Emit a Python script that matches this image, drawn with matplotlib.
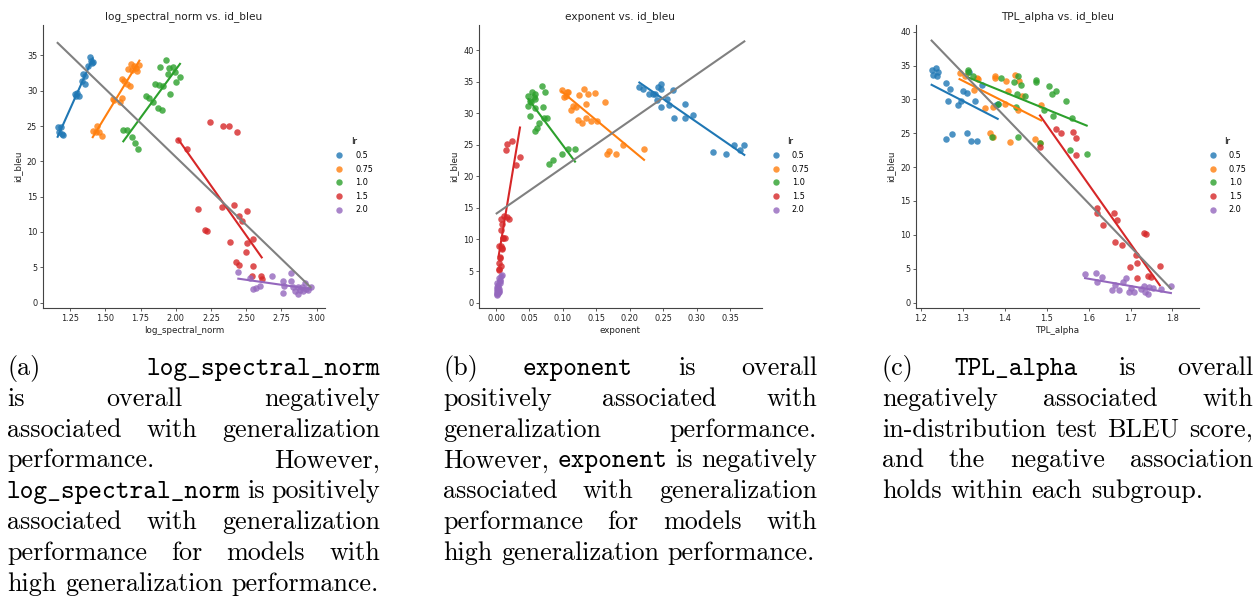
import numpy as np
import matplotlib
matplotlib.use("Agg")
import matplotlib.pyplot as plt
from matplotlib.lines import Line2D
from matplotlib.font_manager import FontProperties

# ---------------- data ----------------
lr_levels = ["0.5", "0.75", "1.0", "1.5", "2.0"]
colors = ["#1f77b4", "#ff7f0e", "#2ca02c", "#d62728", "#9467bd"]

spec_x = {
    "0.5": [1.162, 1.184, 1.174, 1.203, 1.193, 1.285, 1.297, 1.293, 1.311, 1.340, 1.359, 1.333, 1.354, 1.380, 1.397, 1.392, 1.411, 1.404],
    "0.75": [1.411, 1.439, 1.453, 1.475, 1.432, 1.553, 1.564, 1.617, 1.605, 1.617, 1.633, 1.652, 1.676, 1.659, 1.683, 1.688, 1.706, 1.723, 1.742, 1.718],
    "1.0": [1.628, 1.652, 1.687, 1.711, 1.735, 1.787, 1.813, 1.841, 1.853, 1.884, 1.872, 1.900, 1.907, 1.889, 1.929, 1.955, 1.948, 1.978, 1.995, 1.959, 2.002, 2.030],
    "1.5": [2.243, 2.333, 2.380, 2.437, 2.018, 2.082, 2.156, 2.208, 2.219, 2.326, 2.413, 2.451, 2.468, 2.508, 2.385, 2.508, 2.551, 2.498, 2.428, 2.451, 2.551, 2.539, 2.605, 2.610],
    "2.0": [2.444, 2.527, 2.551, 2.570, 2.598, 2.681, 2.759, 2.763, 2.771, 2.818, 2.816, 2.834, 2.846, 2.870, 2.882, 2.893, 2.905, 2.924, 2.941, 2.957, 2.917, 2.865],
}
spec_y = {
    "0.5": [24.9, 24.9, 24.1, 23.8, 23.9, 29.6, 29.7, 29.2, 29.2, 32.4, 32.1, 31.4, 30.9, 33.5, 34.2, 34.7, 34.1, 33.9],
    "0.75": [24.3, 25.0, 24.1, 23.6, 24.1, 28.8, 28.7, 29.0, 28.4, 31.7, 31.4, 31.0, 30.6, 33.1, 33.8, 33.0, 33.5, 32.8, 33.6, 33.2],
    "1.0": [24.4, 24.4, 23.5, 22.6, 21.8, 29.2, 29.0, 28.4, 30.9, 30.8, 27.5, 27.2, 30.7, 33.3, 34.3, 33.2, 32.4, 33.4, 32.7, 29.6, 31.3, 31.9],
    "1.5": [25.6, 25.0, 25.0, 24.1, 23.0, 21.7, 13.3, 10.3, 10.1, 13.6, 13.8, 12.3, 11.5, 13.0, 8.6, 8.4, 9.0, 7.1, 5.7, 5.3, 5.2, 3.8, 3.8, 3.3],
    "2.0": [4.4, 3.5, 2.0, 2.1, 2.4, 3.8, 3.0, 1.4, 2.4, 4.2, 3.0, 2.2, 1.7, 1.2, 1.8, 2.2, 1.6, 1.9, 1.8, 2.2, 2.8, 2.2],
}

expo_x = {
    "0.5": [0.2144, 0.2194, 0.2293, 0.2343, 0.2378, 0.2428, 0.2463, 0.2463, 0.2403, 0.2563, 0.2468, 0.2593, 0.2652, 0.2662, 0.2827, 0.2827, 0.2942, 0.3241, 0.3435, 0.3560, 0.3650, 0.3714],
    "0.75": [0.0982, 0.1022, 0.1057, 0.1082, 0.1047, 0.1246, 0.1321, 0.1371, 0.1481, 0.1630, 0.1346, 0.1157, 0.1197, 0.1117, 0.1231, 0.1291, 0.1346, 0.1416, 0.1506, 0.1665, 0.1695, 0.1795, 0.1905, 0.2214],
    "1.0": [0.0533, 0.0484, 0.0583, 0.0509, 0.0568, 0.0583, 0.0484, 0.0523, 0.0693, 0.0733, 0.0583, 0.0708, 0.0509, 0.0648, 0.0768, 0.0718, 0.0618, 0.0583, 0.1072, 0.1182, 0.0982, 0.0858, 0.0798],
    "1.5": [0.0234, 0.0170, 0.0145, 0.0359, 0.0299, 0.0120, 0.0160, 0.0199, 0.0070, 0.0085, 0.0070, 0.0135, 0.0110, 0.0050, 0.0085, 0.0060, 0.0075, 0.0050,
            0.0040, 0.0060, 0.0070, 0.0090, 0.0045, 0.0100],
    "2.0": [0.0040, 0.0085, 0.0060, 0.0020, 0.0035, 0.0010, 0.0050, 0.0025, 0.0010, 0.0040, 0.0020, 0.0060,
            0.0015, 0.0030, 0.0045, 0.0020, 0.0055, 0.0010, 0.0030, 0.0070],
}
expo_y = {
    "0.5": [34.1, 33.9, 33.1, 33.1, 33.1, 34.2, 34.6, 33.9, 32.1, 32.3, 30.9, 31.3, 33.6, 29.2, 31.5, 29.2, 29.7, 23.8, 23.6, 25.0, 24.2, 24.9],
    "0.75": [33.6, 32.6, 33.3, 33.4, 32.7, 32.9, 33.8, 33.1, 33.2, 31.8, 31.4, 31.1, 30.9, 30.5, 28.9, 28.4, 29.2, 28.7, 28.8, 23.5, 24.0, 23.6, 25.0, 24.3],
    "1.0": [33.3, 32.7, 33.1, 32.0, 32.5, 32.2, 31.1, 31.7, 34.3, 33.3, 30.8, 30.9, 29.6, 28.5, 29.2, 29.2, 27.6, 27.2, 24.4, 24.4, 23.5, 22.6, 21.9],
    "1.5": [25.6, 25.1, 24.2, 23.0, 21.8, 13.7, 13.5, 13.3, 13.2, 12.4, 11.5, 10.3, 10.3, 9.0, 8.6, 7.2, 5.8, 5.4,
            6.2, 7.0, 8.9, 8.5, 5.2, 10.2],
    "2.0": [3.9, 4.4, 3.4, 3.1, 2.5, 2.1, 1.9, 1.5, 1.2, 1.7, 2.4, 3.1,
            1.6, 2.0, 2.2, 1.8, 3.6, 1.4, 2.8, 4.2],
}

tpl_x = {
    "0.5": [1.2258, 1.2356, 1.2417, 1.2280, 1.2379, 1.2598, 1.2697, 1.2659, 1.3000, 1.3098, 1.2962, 1.2886, 1.3288, 1.3152, 1.3470, 1.3833, 1.2598, 1.2735, 1.3098, 1.3205, 1.3341, 1.3790],
    "0.75": [1.2924, 1.3061, 1.3341, 1.3356, 1.3280, 1.3530, 1.3720, 1.3758, 1.3780, 1.4023, 1.4076, 1.4008, 1.4250, 1.4348, 1.4402, 1.4311, 1.4871, 1.3659, 1.3720, 1.4121, 1.4727, 1.4841],
    "1.0": [1.3129, 1.3136, 1.3250, 1.3924, 1.4212, 1.4326, 1.4386, 1.4742, 1.4742, 1.4288, 1.4477, 1.4273, 1.4932, 1.5068, 1.5212, 1.5121, 1.5144, 1.5462, 1.5598, 1.4311, 1.3689, 1.4833, 1.5553, 1.5955, 1.3833],
    "1.5": [1.4841, 1.5235, 1.5348, 1.5629, 1.5689, 1.5705, 1.6205, 1.6205, 1.6614, 1.6674, 1.6333, 1.6636, 1.6788, 1.7318, 1.7371, 1.6992, 1.7152, 1.7144, 1.7417, 1.7492, 1.7697, 1.7130],
    "2.0": [1.5917, 1.6182, 1.6205, 1.6311, 1.6636, 1.6561, 1.6735, 1.6811, 1.6886, 1.6962, 1.7091, 1.7000, 1.7242, 1.7318, 1.7356, 1.7417, 1.7447, 1.7545, 1.7735, 1.7962],
}
tpl_y = {
    "0.5": [34.3, 34.7, 34.1, 33.6, 33.5, 32.4, 31.5, 29.8, 31.3, 31.0, 29.8, 29.1, 29.8, 34.1, 32.1, 29.3, 24.2, 24.9, 25.0, 23.8, 23.9, 29.1],
    "0.75": [33.9, 33.5, 33.2, 33.0, 31.4, 28.7, 28.9, 33.2, 33.5, 32.7, 31.2, 29.3, 33.6, 32.7, 30.5, 28.4, 29.1, 25.1, 24.4, 23.7, 24.1, 23.5],
    "1.0": [34.3, 34.1, 33.4, 33.2, 32.5, 33.4, 32.1, 32.8, 32.5, 30.8, 30.5, 28.9, 28.5, 32.0, 31.3, 30.8, 27.6, 29.8, 27.2, 24.5, 24.5, 23.5, 22.6, 21.9, 29.3],
    "1.5": [23.0, 25.7, 25.1, 25.2, 24.3, 21.8, 13.9, 13.2, 13.3, 12.2, 11.5, 9.0, 8.5, 10.3, 10.2, 5.3, 5.8, 3.6, 3.9, 3.8, 5.4, 7.0],
    "2.0": [4.2, 4.4, 3.1, 3.8, 2.6, 1.8, 1.8, 3.0, 3.6, 1.5, 1.6, 2.1, 2.0, 2.4, 1.6, 1.3, 2.3, 2.1, 2.0, 2.5],
}

metric_names = ["log_spectral_norm", "exponent", "TPL_alpha"]

# captions: lists of words (text, font)
cap_a = [
    [("(a)", "rm"), ("log_spectral_norm", "tt")],
    [("is", "rm"), ("overall", "rm"), ("negatively", "rm")],
    [("associated", "rm"), ("with", "rm"), ("generalization", "rm")],
    [("performance.", "rm"), ("However,", "rm")],
    [("log_spectral_norm", "tt"), ("is", "rm"), ("positively", "rm")],
    [("associated", "rm"), ("with", "rm"), ("generalization", "rm")],
    [("performance", "rm"), ("for", "rm"), ("models", "rm"), ("with", "rm")],
    [("high", "rm"), ("generalization", "rm"), ("performance.", "rm")],
]
cap_b = [
    [("(b)", "rm"), ("exponent", "tt"), ("is", "rm"), ("overall", "rm")],
    [("positively", "rm"), ("associated", "rm"), ("with", "rm")],
    [("generalization", "rm"), ("performance.", "rm")],
    [("However,", "rm"), ("exponent", "tt"), ("is", "rm"), ("negatively", "rm")],
    [("associated", "rm"), ("with", "rm"), ("generalization", "rm")],
    [("performance", "rm"), ("for", "rm"), ("models", "rm"), ("with", "rm")],
    [("high", "rm"), ("generalization", "rm"), ("performance.", "rm")],
]
cap_c = [
    [("(c)", "rm"), ("TPL_alpha", "tt"), ("is", "rm"), ("overall", "rm")],
    [("negatively", "rm"), ("associated", "rm"), ("with", "rm")],
    [("in-distribution", "rm"), ("test", "rm"), ("BLEU", "rm"), ("score,", "rm")],
    [("and", "rm"), ("the", "rm"), ("negative", "rm"), ("association", "rm")],
    [("holds", "rm"), ("within", "rm"), ("each", "rm"), ("subgroup.", "rm")],
]

# ---------------- layout ----------------
W, H = 1258, 600
fig = plt.figure(figsize=(W / 100, H / 100), dpi=100)

panels = [
    dict(xs=spec_x, ys=spec_y, rect=(42.7, 25, 325.0, 308.3),
         xlim=(1.056, 3.059), ylim=(-0.8, 39.3),
         xticks=np.arange(1.25, 3.001, 0.25), yticks=np.arange(0, 36, 5),
         leg=(335.0, 137.5)),
    dict(xs=expo_x, ys=expo_y, rect=(479.0, 25, 761.7, 308.3),
         xlim=(-0.0254, 0.3974), ylim=(-0.9, 43.96),
         xticks=np.arange(0, 0.351, 0.05), yticks=np.arange(0, 41, 5),
         leg=(771.6, 137.5)),
    dict(xs=tpl_x, ys=tpl_y, rect=(916.0, 25, 1199.0, 308.3),
         xlim=(1.1886, 1.8632), ylim=(-0.84, 40.98),
         xticks=np.arange(1.2, 1.801, 0.1), yticks=np.arange(0, 41, 5),
         leg=(1208.6, 137.5)),
]

spine_col = "#444444"
for name, p in zip(metric_names, panels):
    l, t, r, b = p["rect"]
    ax = fig.add_axes([l / W, 1 - b / H, (r - l) / W, (b - t) / H])
    allx, ally = [], []
    for lv, c in zip(lr_levels, colors):
        x = np.array(p["xs"][lv]); y = np.array(p["ys"][lv])
        allx.append(x); ally.append(y)
        ax.scatter(x, y, s=22, color=c, alpha=0.8, linewidths=0, zorder=2)
        k, m = np.polyfit(x, y, 1)
        xx = np.array([x.min(), x.max()])
        ax.plot(xx, k * xx + m, color=c, lw=1.5, zorder=3)
    X = np.concatenate(allx); Y = np.concatenate(ally)
    k, m = np.polyfit(X, Y, 1)
    xx = np.array([X.min(), X.max()])
    ax.plot(xx, k * xx + m, color="gray", lw=1.5, zorder=4)

    ax.set_xlim(*p["xlim"]); ax.set_ylim(*p["ylim"])
    ax.set_xticks(p["xticks"]); ax.set_yticks(p["yticks"])
    for s in ("top", "right"):
        ax.spines[s].set_visible(False)
    for s in ("left", "bottom"):
        ax.spines[s].set_linewidth(0.8)
        ax.spines[s].set_color(spine_col)
    ax.tick_params(labelsize=5.9, length=2.5, width=0.6, pad=1.5,
                   color=spine_col, labelcolor="#222222")
    ax.set_xlabel(name, fontsize=6.3, labelpad=2.5, color="#222222")
    ax.set_ylabel("id_bleu", fontsize=6.3, labelpad=3.5, color="#222222")
    ax.set_title(f"{name} vs. id_bleu", fontsize=7.6, pad=4, color="#222222")

    handles = [Line2D([], [], marker="o", ls="", color=c, markersize=4.6,
                      alpha=0.8, markeredgewidth=0) for c in colors]
    lx, ly = p["leg"]
    ax.legend(handles, lr_levels, title="lr", loc="upper left",
              bbox_to_anchor=(lx / W, 1 - ly / H), bbox_transform=fig.transFigure,
              frameon=False, fontsize=5.9, title_fontsize=6.3,
              handlelength=1.0, handletextpad=1.45, labelspacing=0.56,
              borderpad=0, borderaxespad=0, numpoints=1)

# ---------------- captions ----------------
cap_size = 18.8
fps = {"rm": FontProperties(family=["cmr10", "DejaVu Serif"], size=cap_size),
       "tt": FontProperties(family=["cmtt10", "DejaVu Sans Mono"], size=cap_size)}
renderer = fig.canvas.get_renderer()


def word_width(s, fp):
    w, h, d = renderer.get_text_width_height_descent(s, fp, ismath=False)
    return w


def draw_caption(x0, width, lines, base0, step):
    space = 0.333 * cap_size * 100 / 72
    for i, words in enumerate(lines):
        y = base0 + i * step
        widths = [word_width(t, fps[f]) for t, f in words]
        if i == len(lines) - 1:
            gap = space
        else:
            gap = (width - sum(widths)) / (len(words) - 1)
        x = x0
        for (t, f), w in zip(words, widths):
            fig.text(x / W, 1 - y / H, t, fontproperties=fps[f],
                     ha="left", va="baseline", color="black")
            x += w + gap


draw_caption(7, 373, cap_a, 375, 30.8)
draw_caption(443, 374, cap_b, 375, 30.8)
draw_caption(882, 371, cap_c, 375, 30.8)

fig.savefig("out.png", dpi=100)
